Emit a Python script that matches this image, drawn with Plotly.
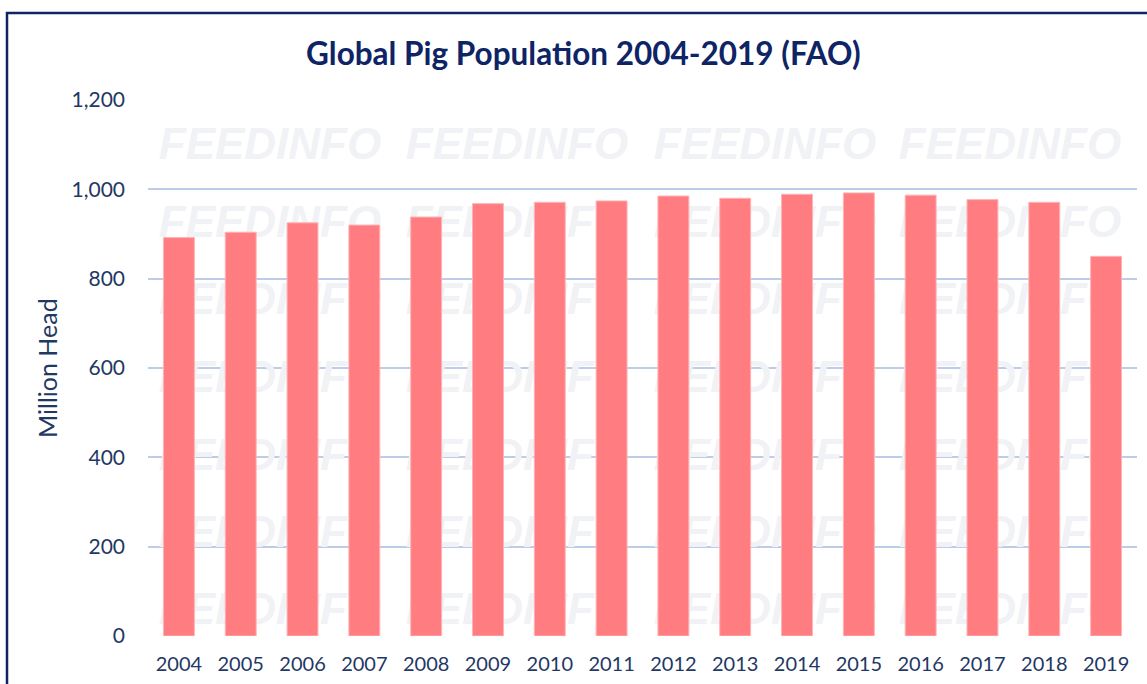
import plotly.graph_objects as go

years = ["2004", "2005", "2006", "2007", "2008", "2009", "2010", "2011",
         "2012", "2013", "2014", "2015", "2016", "2017", "2018", "2019"]
pigs_million_head = [892, 904, 925, 920, 938, 968, 971, 974,
                     985, 980, 989, 992, 987, 977, 971, 850]
y_ticks = [0, 200, 400, 600, 800, 1000, 1200]
y_tick_labels = ["0", "200", "400", "600", "800", "1,000", "1,200"]
title_text = "Global Pig Population 2004-2019 (FAO)"
y_title = "Million Head"
watermark = "FEEDINFO"

W, H = 1147, 684
L, R, T, B = 148, 10, 100, 48
pw, ph = W - L - R, H - T - B

def px_to_paper(px, py):
    return (px - L) / pw, (H - B - py) / ph

navy = "#0E2465"
label_col = "#1F3864"
grid_col = "#BCCDE8"

fig = go.Figure()

# faint watermark grid, drawn on the underlying subplot (beneath the bars)
wm_cols = [270, 517, 765, 1010]
wm_rows = [148, 226, 303, 381, 459, 536, 613]
wm_x, wm_y, wm_t = [], [], []
for ry in wm_rows:
    for cx in wm_cols:
        xp, yp = px_to_paper(cx, ry)
        wm_x.append(xp)
        wm_y.append(yp * 1200)
        wm_t.append("<b><i>" + watermark + "</i></b>")
fig.add_trace(go.Scatter(
    x=wm_x, y=wm_y, text=wm_t, mode="text", xaxis="x", yaxis="y",
    textfont=dict(family="Liberation Sans", size=44, color="#F1F2F5"),
    hoverinfo="skip",
))

fig.add_trace(go.Bar(
    x=years, y=pigs_million_head, xaxis="x2", yaxis="y2",
    marker=dict(color="#FF7C80", line=dict(color="#FFB3B5", width=1)),
    hoverinfo="x+y",
))

annotations = []
tx, ty = px_to_paper(583, 53)
annotations.append(dict(
    text="<b>" + title_text + "</b>", x=tx, y=ty, xref="paper", yref="paper",
    showarrow=False, xanchor="center", yanchor="middle",
    font=dict(family="Lato", size=31.5, color=navy),
))
ax, ay = px_to_paper(47, 368)
annotations.append(dict(
    text=y_title, x=ax, y=ay, xref="paper", yref="paper", textangle=-90,
    showarrow=False, xanchor="center", yanchor="middle",
    font=dict(family="Lato", size=25, color=label_col),
))

x0, y0 = px_to_paper(7, 700)
x1, y1 = px_to_paper(1160, 13)

fig.update_layout(
    width=W, height=H,
    margin=dict(l=L, r=R, t=T, b=B),
    paper_bgcolor="white", plot_bgcolor="white",
    bargap=0.5,
    showlegend=False,
    annotations=annotations,
    shapes=[dict(type="rect", xref="paper", yref="paper",
                 x0=x0, y0=y0, x1=x1, y1=y1,
                 line=dict(color=navy, width=2.5), layer="above")],
    xaxis=dict(range=[0, 1], visible=False, fixedrange=True),
    yaxis=dict(
        range=[0, 1200], tickvals=y_ticks, ticktext=y_tick_labels,
        tickfont=dict(family="Lato", size=21, color=label_col),
        showgrid=True, gridcolor=grid_col, gridwidth=2,
        zeroline=False, showline=False, ticks="",
        ticklabelstandoff=22, automargin=False,
    ),
    xaxis2=dict(
        overlaying="x", anchor="y2", side="bottom",
        tickfont=dict(family="Lato", size=20, color=label_col),
        showgrid=False, showline=False, ticks="",
        ticklabelstandoff=14, automargin=False,
    ),
    yaxis2=dict(
        overlaying="y", anchor="x2", range=[0, 1200],
        showgrid=False, showticklabels=False, zeroline=False,
        showline=False, ticks="", automargin=False,
    ),
)

fig.write_html(
    "out.html",
    config={"displayModeBar": False},
    post_script="document.body.style.margin='0';document.body.style.overflow='hidden';",
)
